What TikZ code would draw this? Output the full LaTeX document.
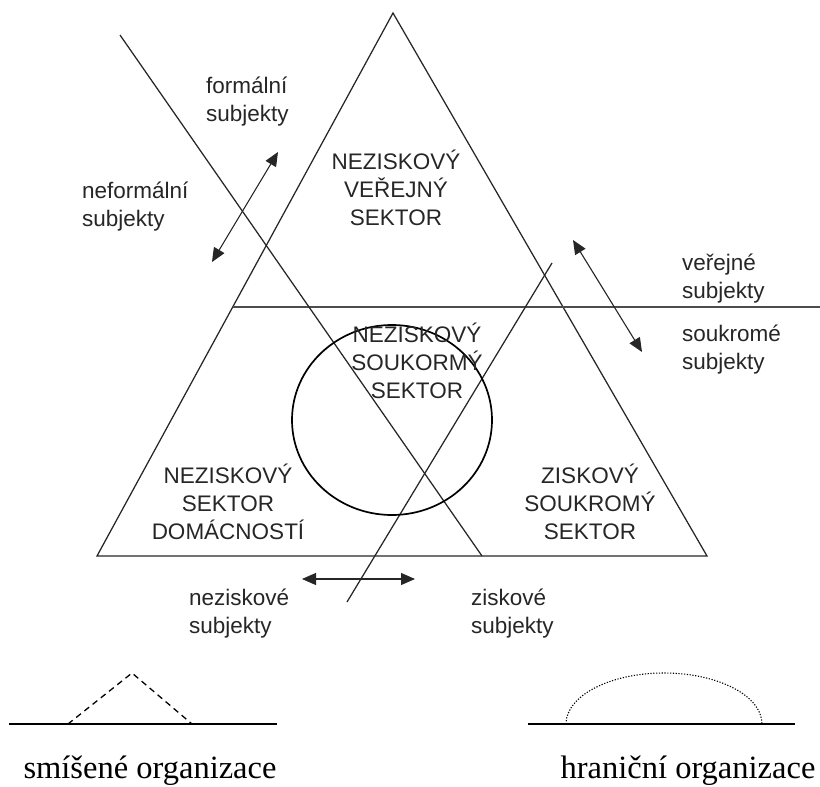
\documentclass[tikz,border=0pt]{standalone}
\usepackage{fontspec}
\setmainfont{Liberation Serif}
\newfontfamily\lblfont{Liberation Sans}
\usetikzlibrary{arrows.meta}
\begin{document}
\begin{tikzpicture}[x=1pt,y=-1pt,
  thinline/.style={line width=1.25pt, draw=black!85},
  circline/.style={line width=1.7pt, draw=black},
  hline/.style={line width=1.8pt, draw=black!70},
  dbl/.style={line width=1.1pt, draw=black!85, {Triangle[length=14pt,width=12pt]}-{Triangle[length=14pt,width=12pt]}},
  solidbase/.style={line width=2.3pt, draw=black},
  lbl/.style={font=\lblfont\fontsize{22.5}{28}\selectfont, text=black!85, inner sep=0pt, align=left, anchor=west},
  sect/.style={font=\lblfont\fontsize{22.5}{28}\selectfont, text=black!85, inner sep=0pt, align=center},
  captext/.style={font=\fontsize{32.5}{38}\selectfont, inner sep=0pt, anchor=base}
]
\path[use as bounding box] (0,0) rectangle (820,787);

% triangle
\coordinate (apex) at (393,13);
\coordinate (bl) at (97,556);
\coordinate (br) at (707,556);
\draw[thinline] (apex) -- (bl) -- (br) -- cycle;

% horizontal divider
\coordinate (h1) at (233,307);
\coordinate (h2) at (820,307);
\draw[hline] (h1) -- (h2);

% diagonal lines
\coordinate (d1a) at (120,35);
\coordinate (d1b) at (482,556);
\draw[thinline] (d1a) -- (d1b);
\coordinate (d2a) at (347,602);
\coordinate (d2b) at (552,263);
\draw[thinline] (d2a) -- (d2b);

% circle
\coordinate (cc) at (392,420);
\draw[circline] (cc) ellipse [x radius=100, y radius=95];

% arrows
\coordinate (a1) at (278,152);
\coordinate (a2) at (212,262);
\draw[dbl] (a1) -- (a2);
\coordinate (b1) at (573,240);
\coordinate (b2) at (642,352);
\draw[dbl] (b1) -- (b2);
\coordinate (c1) at (302,579);
\coordinate (c2) at (415,579);
\draw[dbl] (c1) -- (c2);

% labels
\node[lbl] (formal) at (206,102) {formální\\subjekty};
\node[lbl] (neformal) at (82,207) {neformální\\subjekty};
\node[lbl] (verejne) at (682,279) {veřejné\\subjekty};
\node[lbl] (soukrome) at (682,350) {soukromé\\subjekty};
\node[lbl] (nezisk) at (189,614) {neziskové\\subjekty};
\node[lbl] (zisk) at (471,614) {ziskové\\subjekty};

\node[sect] (top) at (396,188) {NEZISKOVÝ\\VEŘEJNÝ\\SEKTOR};
\node[sect] (mid) at (417,361) {NEZISKOVÝ\\SOUKORMÝ\\SEKTOR};
\node[sect] (left) at (228,502) {NEZISKOVÝ\\SEKTOR\\DOMÁCNOSTÍ};
\node[sect] (right) at (590,502) {ZISKOVÝ\\SOUKROMÝ\\SEKTOR};

% bottom legend: mixed organisations
\coordinate (l1) at (9,724);
\coordinate (l2) at (277,724);
\draw[solidbase] (l1) -- (l2);
\coordinate (t1) at (68,724);
\coordinate (t2) at (132,673);
\coordinate (t3) at (192,724);
\draw[line width=1.3pt, dash pattern=on 6pt off 4.5pt] (t1) -- (t2) -- (t3);
\node[captext] (smis) at (150,778) {smíšené organizace};

% bottom legend: boundary organisations
\coordinate (r1) at (528,724);
\coordinate (r2) at (795,724);
\draw[solidbase] (r1) -- (r2);
\coordinate (e1) at (566,724);
\draw[line width=1.1pt, dash pattern=on 1.2pt off 1.6pt] (e1) arc[start angle=180, end angle=360, x radius=98, y radius=51];
\node[captext] (hran) at (688,778) {hraniční organizace};
\end{tikzpicture}
\end{document}
